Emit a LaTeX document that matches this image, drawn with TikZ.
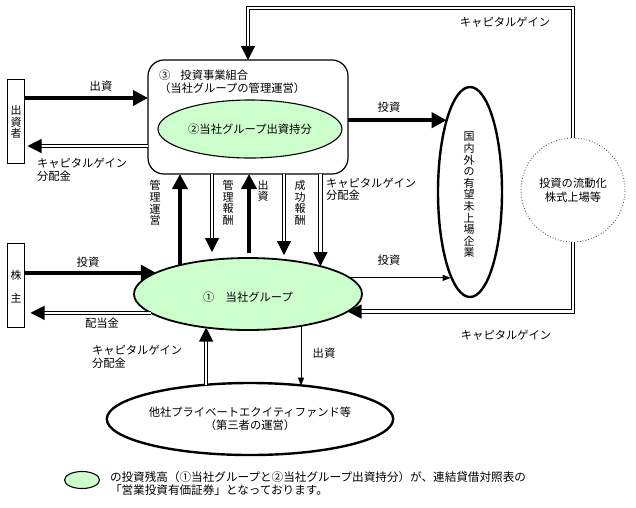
\documentclass[tikz,border=0pt]{standalone}
\usepackage{fontspec}
\setmainfont{Noto Sans CJK JP}
\usetikzlibrary{arrows.meta,shapes.geometric}
\definecolor{lgreen}{RGB}{204,255,204}
\tikzset{
  every node/.style={font=\fontsize{11.3}{12.5}\selectfont, inner sep=0pt, outer sep=0pt},
  thickarrow/.style={line width=4pt, -{Triangle[length=15pt,width=15pt]}},
  dblarrow/.style={double, double distance=2.4pt, line width=1.1pt, -{Triangle[length=14pt,width=14pt]}},
  thinarrow/.style={line width=0.9pt, -{Triangle[length=8pt,width=6pt]}},
  greenell/.style={ellipse, draw, fill=lgreen},
  whiteell/.style={ellipse, draw, fill=white},
  sidebox/.style={draw, line width=0.9pt, rectangle},
  vtext/.style={align=center, font=\fontsize{11}{11.6}\selectfont},
  lbl/.style={align=left}
}
\begin{document}
\begin{tikzpicture}[x=1pt,y=-1pt]
\useasboundingbox[fill=white] (0,0) rectangle (636,507);

% nodes
\node[draw, rounded corners=16pt, line width=1.2pt, minimum width=200pt, minimum height=114pt] (kumiai) at (248,117) {};
\node[lbl, anchor=north west] (kumiaiT) at (159,70) {③\hspace{0.9em}投資事業組合\\（当社グループの管理運営）};
\node[greenell, line width=1.1pt, minimum width=184pt, minimum height=58pt] (mochi) at (250,129) {②当社グループ出資持分};

\node[greenell, line width=1.8pt, minimum width=228pt, minimum height=72pt] (grp) at (248,294) {};
\node (grpT) at (248,297) {①\hspace{1em}当社グループ};

\node[whiteell, line width=2.4pt, minimum width=64pt, minimum height=210pt] (mirai) at (470,192) {};
\node[vtext] (miraiT) at (469,195) {国\\内\\外\\の\\有\\望\\未\\上\\場\\企\\業};

\node[circle, draw=black!75, dotted, line width=0.8pt, minimum size=104pt, align=center, font=\fontsize{11.3}{14}\selectfont] (ryudo) at (573,190) {投資の流動化\\株式上場等};

\node[sidebox, minimum width=17pt, minimum height=84pt] (shussha) at (16,121) {};
\node[vtext] (shusshaT) at (16,122) {出\\資\\者};
\node[sidebox, minimum width=17pt, minimum height=84pt] (kabu) at (16,285) {};
\node[vtext, font=\fontsize{11}{23}\selectfont] (kabuT) at (16,287) {株\\主};

\node[whiteell, line width=2.4pt, minimum width=230pt, minimum height=72pt, align=center, font=\fontsize{11.3}{13}\selectfont] (tasha) at (250,419) {他社プライベートエクイティファンド等\\（第三者の運営）};

% legend
\node[greenell, line width=1.1pt, minimum width=35pt, minimum height=17pt] (leg) at (82,480) {};
\node[lbl, anchor=west, font=\fontsize{11.6}{13}\selectfont] (legT) at (110,484) {の投資残高（①当社グループと②当社グループ出資持分）が、連結貸借対照表の\\「営業投資有価証券」となっております。};

% coordinates for free ends
\coordinate (kh) at (212,252);
\coordinate (sh) at (249,253);
\coordinate (sk) at (284,255);
\coordinate (topc) at (248,8);

% connectors
\draw[thickarrow] ([yshift=23pt]shussha.east) -- ([yshift=23pt]shussha.east -| kumiai.west);
\draw[dblarrow, shorten >=3pt] ([yshift=-25pt]shussha.east -| kumiai.west) -- ([yshift=-25pt]shussha.east);
\draw[thickarrow] (mirai.108.9 -| kumiai.east) -- (mirai.108.9);
\draw[dblarrow] (ryudo.north) |- (topc) -- (kumiai.north);
\draw[dblarrow] (ryudo.south) |- (grp.-10.3);
\draw[thinarrow] (grp.9.6) -- (grp.9.6 -| mirai.257.5);
\draw[thickarrow] (kabu.east |- grp.167.2) -- (grp.167.2);
\draw[dblarrow, shorten >=6pt] (grp.191.1) -- (grp.191.1 -| kabu.east);
\draw[thickarrow] (grp.157.9) -- (grp.157.9 |- kumiai.south);
\draw[dblarrow] (kumiai.south -| kh) -- (kh);
\draw[thickarrow] (sh) -- (sh |- kumiai.south);
\draw[dblarrow] (kumiai.south -| sk) -- (sk);
\draw[dblarrow] (grp.21.2 |- kumiai.south) -- (grp.21.2);
\draw[dblarrow] (tasha.142.2) -- (tasha.142.2 |- grp.219.3);
\draw[thinarrow] (grp.-31.6) -- (grp.-31.6 |- tasha.32.9);

% labels
\node (l1) at (101,86) {出資};
\node[lbl, anchor=west, font=\fontsize{11.3}{13}\selectfont] (l2) at (37,170) {キャピタルゲイン\\分配金};
\node (l3) at (389,107) {投資};
\node (l4) at (505,22) {キャピタルゲイン};
\node (l5) at (506,335) {キャピタルゲイン};
\node (l6) at (389,260) {投資};
\node (l7) at (88,262) {投資};
\node (l8) at (102,323) {配当金};
\node[lbl, anchor=west, font=\fontsize{11.3}{13}\selectfont] (l9) at (92,357) {キャピタルゲイン\\分配金};
\node (l10) at (324,353) {出資};
\node[vtext] (l11) at (155,203) {管\\理\\運\\営};
\node[vtext] (l12) at (228,203) {管\\理\\報\\酬};
\node[vtext] (l13) at (263,191) {出\\資};
\node[vtext] (l14) at (300,203) {成\\功\\報\\酬};
\node[lbl, anchor=west, font=\fontsize{11.3}{12}\selectfont] (l15) at (326,189) {キャピタルゲイン\\分配金};
\end{tikzpicture}
\end{document}
